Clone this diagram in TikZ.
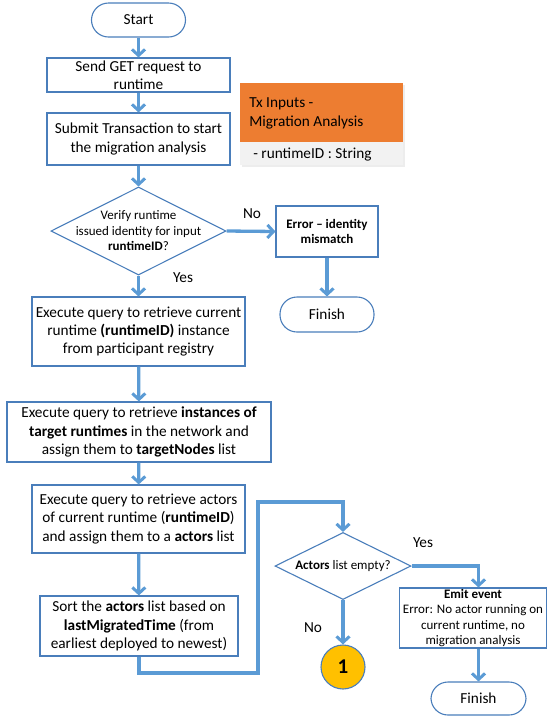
\documentclass[tikz,border=0pt]{standalone}
\usepackage{fontspec}
\setmainfont{Carlito}
\usetikzlibrary{arrows.meta,shapes.geometric}
\definecolor{boxline}{HTML}{4A7EBB}
\definecolor{flow}{HTML}{5B9BD5}
\definecolor{txorange}{HTML}{ED7D31}
\definecolor{txgrey}{HTML}{F2F2F2}
\definecolor{marker}{HTML}{FFC000}
\tikzset{
  x=1pt, y=-1pt,
  every node/.style={font=\fontsize{15.3}{18.3}\selectfont, text=black},
  procbox/.style={draw=boxline, line width=1.1pt, fill=white, align=center, inner sep=0pt},
  termbox/.style={procbox, rounded corners=17pt},
  decision/.style={draw=boxline, line width=1.1pt, fill=white, diamond, inner sep=0pt},
  smalltext/.style={font=\fontsize{13}{15.5}\selectfont, align=center},
  flowarrow/.style={draw=flow, line width=3.3pt, -{Straight Barb[length=6pt,width=13pt,line width=3pt]}},
  branchlabel/.style={font=\fontsize{15.3}{18.3}\selectfont}
}
\begin{document}
\begin{tikzpicture}
\useasboundingbox (0,0) rectangle (547,716);

% main column
\node[termbox, minimum width=94pt, minimum height=34pt] (start) at (138.5,20) {Start};
\node[procbox, minimum width=183pt, minimum height=34pt] (get) at (138.5,75) {Send GET request to\\runtime};
\node[procbox, minimum width=183pt, minimum height=52pt] (submit) at (138.5,139) {Submit Transaction to start\\the migration analysis};
\node[decision, minimum width=175pt, minimum height=88pt] (verify) at (138.5,231) {};
\node[smalltext] at (verify) {Verify runtime\\issued identity for input\\\textbf{runtimeID}?};
\node[procbox, smalltext, minimum width=102pt, minimum height=51pt] (err) at (327,231.5) {\textbf{Error -- identity}\\\textbf{mismatch}};
\node[termbox, minimum width=94pt, minimum height=35pt] (finishA) at (327,314.5) {Finish};
\node[procbox, minimum width=213pt, minimum height=69pt] (current) at (138.5,331.5) {Execute query to retrieve current\\runtime \textbf{(runtimeID)} instance\\from participant registry};
\node[procbox, minimum width=264pt, minimum height=60pt] (targets) at (139,432) {Execute query to retrieve \textbf{instances of}\\\textbf{target runtimes} in the network and\\assign them to \textbf{targetNodes} list};
\node[procbox, minimum width=213pt, minimum height=68pt] (actors) at (138.5,519) {Execute query to retrieve actors\\of current runtime (\textbf{runtimeID})\\and assign them to a \textbf{actors} list};
\node[procbox, minimum width=198pt, minimum height=60pt] (sorting) at (139,626) {Sort the \textbf{actors} list based on\\\textbf{lastMigratedTime} (from\\earliest deployed to newest)};

% right branch
\node[decision, minimum width=136pt, minimum height=67pt] (empty) at (343,566) {};
\node[smalltext] at (empty) {\textbf{Actors} list empty?};
\node[procbox, smalltext, minimum width=147pt, minimum height=60pt] (emit) at (473,618) {\textbf{Emit event}\\Error: No actor running on\\current runtime, no\\migration analysis};
\node[termbox, minimum width=95pt, minimum height=33pt] (finishB) at (478.5,698.5) {Finish};
\node[circle, draw=boxline, line width=1.1pt, fill=marker, minimum size=44pt, inner sep=0pt,
      font=\fontsize{21}{24}\selectfont\bfseries] (cont) at (343,667) {1};

% transaction input card
\fill[black, opacity=0.07] (242,85) rectangle (405,167);
\node[fill=txorange, minimum width=163pt, minimum height=59pt, inner sep=0pt] (txhead) at (321.5,112.5) {};
\node[fill=txgrey, minimum width=163pt, minimum height=23pt, inner sep=0pt, anchor=north] (txbody) at (txhead.south) {};
\node[anchor=west, align=left] at ([xshift=6pt,yshift=-1pt]txhead.west) {Tx Inputs -\\Migration Analysis};
\node[anchor=west] at ([xshift=10pt,yshift=-0.5pt]txbody.west) {- runtimeID : String};

% connectors
\draw[flowarrow] (start) -- (get);
\draw[flowarrow] (get) -- (submit);
\draw[flowarrow] (submit) -- (verify);
\draw[flowarrow] (verify.east) -- (err.west);
\node[branchlabel] (nolabelA) at (252,214) {No};
\draw[flowarrow] (verify.south) -- (current.north);
\node[branchlabel] (yeslabelA) at (183,278) {Yes};
\draw[flowarrow] (err) -- (finishA);
\draw[flowarrow] (current) -- (targets);
\draw[flowarrow] (targets) -- (actors);
\draw[flowarrow] (actors) -- (sorting);
\coordinate (loopA) at (258,673);
\coordinate (loopB) at (258,502);
\draw[flowarrow] (sorting.south) |- (loopA) -- (loopB) -| (empty.north);
\draw[flowarrow] (empty.east) -| (emit.north -| finishB.north);
\node[branchlabel] (yeslabelB) at (423,543) {Yes};
\draw[flowarrow] (empty.south) -- (cont.north);
\node[branchlabel] (nolabelB) at (313,628) {No};
\draw[flowarrow] (emit.south -| finishB.north) -- (finishB.north);
\end{tikzpicture}
\end{document}
